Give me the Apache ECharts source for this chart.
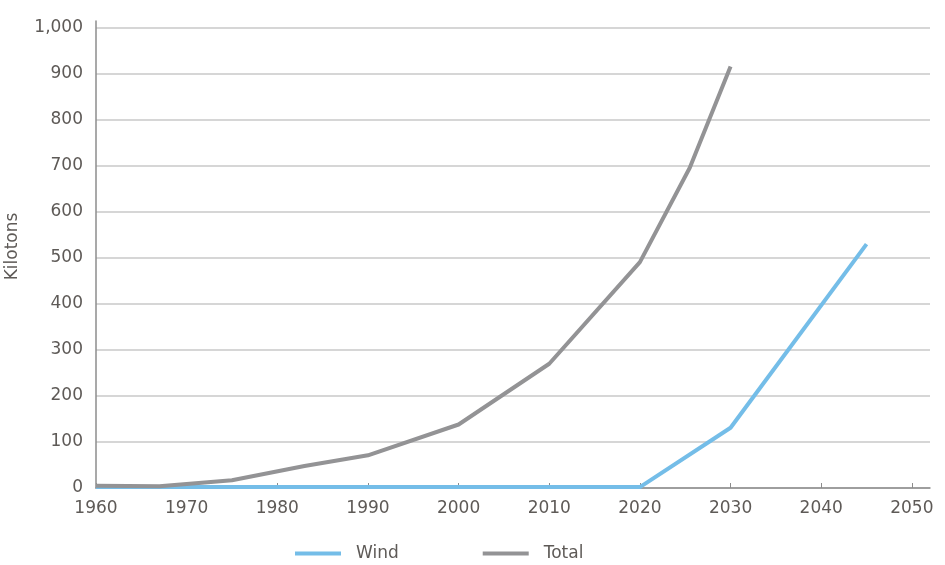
<!DOCTYPE html>
<html>
<head>
<meta charset="utf-8">
<script src="https://cdn.jsdelivr.net/npm/echarts@6/dist/echarts.min.js"></script>
<style>html,body{margin:0;padding:0;background:#fff}#c{width:945px;height:565px}</style>
</head>
<body>
<div id="c"></div>
<script>
const windYears = [1960, 2020, 2030, 2045];
const windValues = [2, 2, 131, 530];
const totalYears = [1960, 1967, 1975, 1983, 1990, 2000, 2010, 2020, 2025.5, 2030];
const totalValues = [5, 4, 17, 48, 71, 138, 270, 491, 696, 916];
const xTicks = [1960, 1970, 1980, 1990, 2000, 2010, 2020, 2030, 2040, 2050];
const yTicks = [0, 100, 200, 300, 400, 500, 600, 700, 800, 900, 1000];

const pairs = (xs, ys) => xs.map((x, i) => [x, ys[i]]);
const font = 'DejaVu Sans';
const txt = '#5e5a57';

const chart = echarts.init(document.getElementById('c'), null, {renderer: 'canvas'});
chart.setOption({
  animation: false,
  backgroundColor: '#fff',
  grid: {left: 96, right: 15, top: 21, bottom: 77, containLabel: false, outerBoundsMode: 'none'},
  legend: {
    top: 540,
    left: 290,
    icon: 'rect',
    itemWidth: 46,
    itemHeight: 4,
    itemGap: 84,
    textStyle: {fontFamily: font, fontSize: 17, color: txt, padding: [0, 0, 0, 10]},
    data: ['Wind', 'Total']
  },
  xAxis: {
    type: 'value',
    min: 1960,
    max: 2052,
    interval: 10,
    axisLine: {show: true, lineStyle: {color: '#8c8c8c', width: 1.5}},
    axisTick: {show: true, inside: true, length: 5, customValues: xTicks, lineStyle: {color: '#8c8c8c'}},
    axisLabel: {customValues: xTicks, formatter: v => String(v), fontFamily: font, fontSize: 17, color: txt, margin: 12},
    splitLine: {show: false}
  },
  yAxis: {
    type: 'value',
    min: 0,
    max: 1015,
    interval: 100,
    name: 'Kilotons',
    nameLocation: 'middle',
    nameGap: 75,
    nameRotate: 90,
    nameTextStyle: {fontFamily: font, fontSize: 17, color: txt, padding: [0, 0, 0, 16]},
    axisLine: {show: true, lineStyle: {color: '#8c8c8c', width: 1.5}},
    axisTick: {show: false},
    axisLabel: {customValues: yTicks, formatter: v => v.toLocaleString('en-US'), fontFamily: font, fontSize: 17, color: txt, margin: 13},
    splitLine: {show: true, showMaxLine: false, lineStyle: {color: '#c9c9c9', width: 1.5}}
  },
  series: [
    {
      name: 'Wind', type: 'line', data: pairs(windYears, windValues),
      showSymbol: false, symbol: 'none',
      lineStyle: {color: '#74bde8', width: 4}, itemStyle: {color: '#74bde8'}, z: 2
    },
    {
      name: 'Total', type: 'line', data: pairs(totalYears, totalValues),
      showSymbol: false, symbol: 'none',
      lineStyle: {color: '#939395', width: 4}, itemStyle: {color: '#939395'}, z: 3
    }
  ]
});
</script>
</body>
</html>
